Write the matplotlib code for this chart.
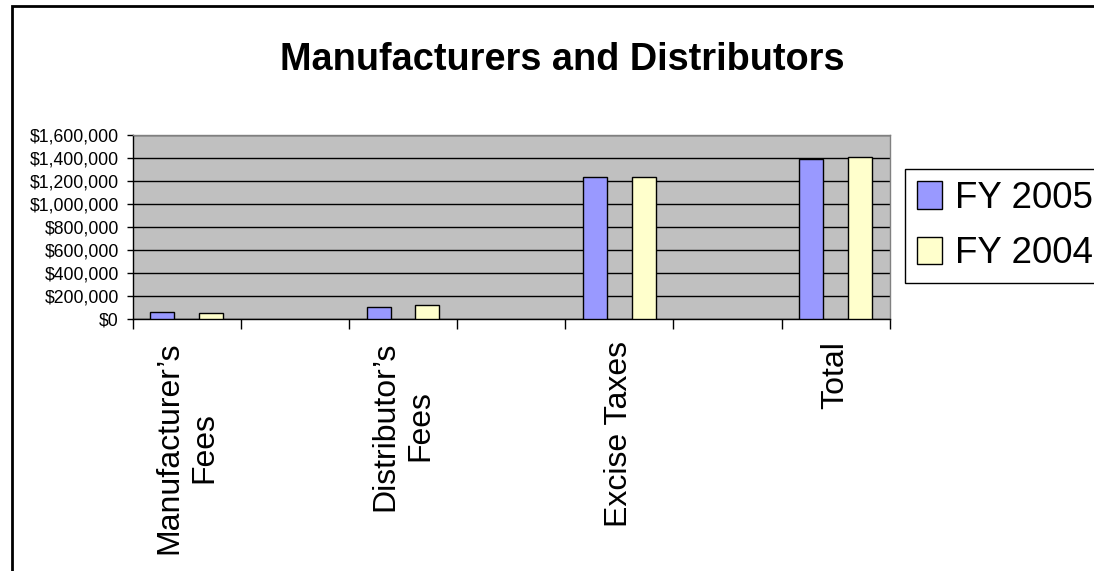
import numpy as np
import matplotlib
matplotlib.use("Agg")
import matplotlib.pyplot as plt
from matplotlib.patches import Rectangle
from matplotlib.ticker import FuncFormatter, MultipleLocator, FixedLocator

# data
categories = ["Manufacturer\u2019s\nFees", "Distributor\u2019s\nFees", "Excise Taxes", "Total"]
fy2005 = [57000, 104000, 1237000, 1391000]
fy2004 = [56000, 119000, 1237000, 1406000]
series_names = ["FY 2005", "FY 2004"]

plt.rcParams['font.family'] = ['Liberation Sans', 'DejaVu Sans']

fig = plt.figure(figsize=(10.94, 5.71), dpi=100)
ax = fig.add_axes([0.1212, 0.4413, 0.6921, 0.3228])

# every category sits in every other slot, empty slots in between
pos = np.arange(len(categories)) * 2
w = 0.22
ax.bar(pos - 0.225, fy2005, w, color='#9999FF', edgecolor='black', linewidth=1, label=series_names[0], zorder=3)
ax.bar(pos + 0.225, fy2004, w, color='#FFFFCC', edgecolor='black', linewidth=1, label=series_names[1], zorder=3)

ax.set_facecolor('#C0C0C0')
ax.set_xlim(-0.5, pos[-1] + 0.5)
ax.set_ylim(0, 1600000)
ax.yaxis.set_major_locator(MultipleLocator(200000))
ax.yaxis.set_major_formatter(FuncFormatter(lambda v, p: '${:,.0f}'.format(v)))
ax.grid(axis='y', color='black', linewidth=1, zorder=1)
ax.set_axisbelow(True)

ax.set_xticks(pos)
ax.set_xticklabels(categories, rotation=90, ha='center', va='top',
                   multialignment='center', fontsize=23, linespacing=1.2)
ax.xaxis.set_minor_locator(FixedLocator(np.arange(-0.5, pos[-1] + 1, 1.0)))
ax.tick_params(axis='x', which='major', length=0, pad=16)
ax.tick_params(axis='x', which='minor', length=7.5, width=1, color='black', direction='out')
ax.tick_params(axis='y', length=4.5, width=1, pad=5.5, labelsize=12.7, direction='out')

for s in ['left', 'bottom']:
    ax.spines[s].set_color('black')
    ax.spines[s].set_linewidth(1)
for s in ['top', 'right']:
    ax.spines[s].set_color('#808080')
    ax.spines[s].set_linewidth(1)

fig.text(0.514, 1 - 70 / 571, 'Manufacturers and Distributors', ha='center', va='baseline',
         fontsize=27.3, fontweight='bold')

leg = fig.legend(loc='upper left', bbox_to_anchor=(905 / 1094, 1 - 169 / 571),
                 fontsize=26.5, frameon=True, fancybox=False, framealpha=1,
                 edgecolor='black', handlelength=0.68, handleheight=0.76,
                 handletextpad=0.35, borderpad=0.32, labelspacing=0.55, borderaxespad=0)
leg.get_frame().set_linewidth(1)

# outer chart border, runs off the right and bottom edges
fig.patches.append(Rectangle((12 / 1094, -0.1), 1.2, 1.1 - 6 / 571, transform=fig.transFigure,
                             fill=False, edgecolor='black', linewidth=2))

fig.savefig('out.png', dpi=100)
